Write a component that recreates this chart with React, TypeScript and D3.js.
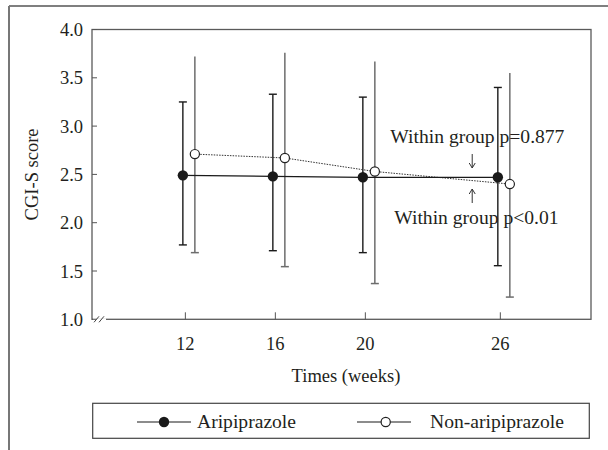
import React from "react";
import * as d3 from "d3";

// weeks and CGI-S values
const weeks = [12, 16, 20, 26];
const ariMean = [2.49, 2.48, 2.47, 2.47];
const ariUpper = [3.25, 3.33, 3.3, 3.4];
const ariLower = [1.77, 1.71, 1.69, 1.555];
const nonMean = [2.71, 2.67, 2.53, 2.4];
const nonUpper = [3.72, 3.76, 3.67, 3.55];
const nonLower = [1.69, 1.545, 1.37, 1.23];
const yTicks = [1.0, 1.5, 2.0, 2.5, 3.0, 3.5, 4.0];
const seriesNames = ["Aripiprazole", "Non-aripiprazole"];
const notes = ["Within group p=0.877", "Within group p<0.01"];

const W = 608;
const H = 450;
const font = "Liberation Serif, DejaVu Serif, serif";
const ink = "#231f20";

export default function App() {
  const x = d3.scaleLinear().domain([7.85, 30.03]).range([92, 591]);
  const y = d3.scaleLinear().domain([1, 4]).range([319.3, 29.5]);
  const [x0, x1] = x.range();
  const [y0, y1] = y.range();

  const ari = weeks.map((w, i) => ({ cx: x(w) - 2.5, m: ariMean[i], hi: ariUpper[i], lo: ariLower[i] }));
  const non = weeks.map((w, i) => ({ cx: x(w) + 9.5, m: nonMean[i], hi: nonUpper[i], lo: nonLower[i] }));

  const line = d3.line<{ cx: number; m: number }>().x(d => d.cx).y(d => y(d.m));

  const noteX = x(24.98);
  const arrowX = x(24.75);
  const txt = { fontFamily: font, fontSize: 18.5, fill: ink } as React.CSSProperties;
  const big = { ...txt, fontSize: 19.6 };

  return (
    <div style={{ position: "absolute", left: 0, top: 0 }}>
      <svg width={W} height={H} style={{ display: "block", background: "#fff", fontFamily: font }}>
        {/* outer frame (top and left only visible) */}
        <line x1={9} x2={W} y1={6} y2={6} stroke="#555" strokeWidth={1.5} />
        <line x1={9} x2={9} y1={6} y2={H} stroke="#777" strokeWidth={2} />

        {/* plot box */}
        <rect x={x0} y={y1} width={x1 - x0} height={y0 - y1} fill="none" stroke="#5a5a5a" strokeWidth={1.3} />
        {/* axis break */}
        <line x1={x0 + 1} x2={x0 + 14} y1={y0} y2={y0} stroke="#fff" strokeWidth={2} />
        <line x1={x0 + 2} x2={x0 + 7} y1={y0 + 3} y2={y0 - 3} stroke="#444" strokeWidth={1} />
        <line x1={x0 + 7} x2={x0 + 12} y1={y0 + 3} y2={y0 - 3} stroke="#444" strokeWidth={1} />

        {/* y ticks */}
        {yTicks.map(t => (
          <g key={t} transform={`translate(${x0},${y(t)})`}>
            <line x1={0} x2={5} stroke="#555" strokeWidth={1} />
            <text x={-9} dy="0.36em" textAnchor="end" style={txt}>
              {d3.format(".1f")(t)}
            </text>
          </g>
        ))}

        {/* x ticks */}
        {weeks.map(w => (
          <g key={w} transform={`translate(${x(w)},${y0})`}>
            <line y1={0} y2={-7} stroke="#555" strokeWidth={1} />
            <text y={31} textAnchor="middle" style={txt}>
              {w}
            </text>
          </g>
        ))}

        <text x={346} y={381.5} textAnchor="middle" style={txt}>
          Times (weeks)
        </text>
        <text transform={`translate(38,${(y0 + y1) / 2}) rotate(-90)`} textAnchor="middle" style={txt}>
          CGI-S score
        </text>

        {/* non-aripiprazole error bars (grey, caps at bottom only) */}
        {non.map((d, i) => (
          <g key={"ne" + i} stroke="#6d6d6d" strokeWidth={1.5}>
            <line x1={d.cx} x2={d.cx} y1={y(d.hi)} y2={y(d.lo)} />
            <line x1={d.cx - 4} x2={d.cx + 4} y1={y(d.lo)} y2={y(d.lo)} />
          </g>
        ))}

        {/* aripiprazole error bars */}
        {ari.map((d, i) => (
          <g key={"ae" + i} stroke="#1a1a1a" strokeWidth={1.4}>
            <line x1={d.cx} x2={d.cx} y1={y(d.hi)} y2={y(d.lo)} />
            <line x1={d.cx - 4} x2={d.cx + 4} y1={y(d.hi)} y2={y(d.hi)} />
            <line x1={d.cx - 4} x2={d.cx + 4} y1={y(d.lo)} y2={y(d.lo)} />
          </g>
        ))}

        <path d={line(non) ?? ""} fill="none" stroke="#333" strokeWidth={1} strokeDasharray="1.5,1.2" />
        <path d={line(ari) ?? ""} fill="none" stroke="#1a1a1a" strokeWidth={1.3} />

        {ari.map((d, i) => (
          <circle key={"ap" + i} cx={d.cx} cy={y(d.m)} r={5.2} fill="#1a1a1a" />
        ))}
        {non.map((d, i) => (
          <circle key={"np" + i} cx={d.cx} cy={y(d.m)} r={4.6} fill="#fff" stroke="#222" strokeWidth={1.2} />
        ))}

        {/* annotations */}
        <text x={noteX} y={142.5} textAnchor="middle" style={big}>
          {notes[0]}
        </text>
        <g stroke="#333" strokeWidth={1} fill="none">
          <line x1={arrowX} x2={arrowX} y1={154} y2={168} />
          <path d={`M${arrowX - 3},${163} L${arrowX},${168} L${arrowX + 3},${163}`} />
          <line x1={arrowX} x2={arrowX} y1={189} y2={203} />
          <path d={`M${arrowX - 3},${194} L${arrowX},${189} L${arrowX + 3},${194}`} />
        </g>
        <text x={noteX - 1} y={224} textAnchor="middle" style={big}>
          {notes[1]}
        </text>

        {/* legend */}
        <rect x={92.7} y={403.3} width={496.6} height={35} fill="none" stroke="#444" strokeWidth={1.2} />
        <g transform="translate(0,422)">
          <line x1={137} x2={191} stroke="#1a1a1a" strokeWidth={1.2} />
          <circle cx={164} r={5.2} fill="#1a1a1a" />
          <text x={197} dy="0.33em" style={big}>
            {seriesNames[0]}
          </text>
          <line x1={357} x2={411} stroke="#1a1a1a" strokeWidth={1.2} />
          <circle cx={385.7} r={4.6} fill="#fff" stroke="#222" strokeWidth={1.2} />
          <text x={430} dy="0.33em" style={big}>
            {seriesNames[1]}
          </text>
        </g>
      </svg>
    </div>
  );
}
